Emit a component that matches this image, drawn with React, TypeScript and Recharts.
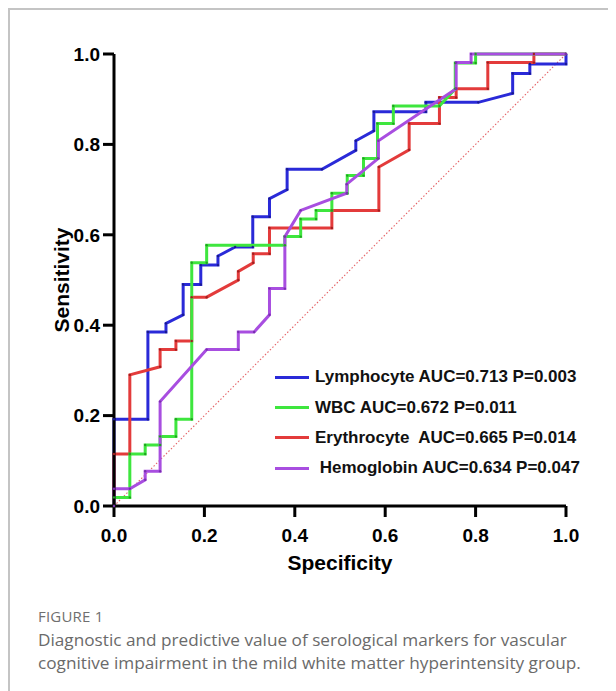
import React from "react";
import { LineChart, Line, XAxis, YAxis, ReferenceLine, Legend } from "recharts";

// ROC curves: [1 - specificity axis value, sensitivity]
const lymphocyte: [number, number][] = [
  [0, 0], [0, 0.192], [0.075, 0.192], [0.075, 0.385], [0.115, 0.385], [0.115, 0.404],
  [0.153, 0.423], [0.153, 0.49], [0.192, 0.49], [0.192, 0.533], [0.23, 0.533], [0.23, 0.553],
  [0.268, 0.573], [0.307, 0.573], [0.307, 0.64], [0.344, 0.64], [0.344, 0.68], [0.383, 0.7],
  [0.383, 0.745], [0.46, 0.745], [0.535, 0.787], [0.535, 0.808], [0.575, 0.83], [0.575, 0.872],
  [0.69, 0.872], [0.69, 0.893], [0.806, 0.893], [0.882, 0.913], [0.882, 0.957], [0.92, 0.957],
  [0.92, 0.978], [1, 0.978], [1, 1],
];

const wbc: [number, number][] = [
  [0, 0], [0, 0.019], [0.035, 0.019], [0.035, 0.115], [0.069, 0.115], [0.069, 0.135],
  [0.102, 0.135], [0.102, 0.154], [0.137, 0.154], [0.137, 0.192], [0.172, 0.192], [0.172, 0.538],
  [0.205, 0.538], [0.205, 0.577], [0.378, 0.577], [0.378, 0.596], [0.413, 0.596], [0.413, 0.635],
  [0.447, 0.635], [0.447, 0.654], [0.482, 0.654], [0.482, 0.692], [0.516, 0.692], [0.516, 0.731],
  [0.552, 0.731], [0.552, 0.769], [0.583, 0.769], [0.583, 0.846], [0.618, 0.846], [0.618, 0.885],
  [0.72, 0.885], [0.755, 0.923], [0.755, 0.98], [0.8, 0.98], [0.8, 1], [1, 1],
];

const erythrocyte: [number, number][] = [
  [0, 0], [0, 0.115], [0.035, 0.115], [0.035, 0.29], [0.102, 0.308], [0.102, 0.346],
  [0.137, 0.346], [0.137, 0.365], [0.172, 0.365], [0.172, 0.462], [0.205, 0.462], [0.275, 0.5],
  [0.275, 0.519], [0.308, 0.538], [0.308, 0.558], [0.344, 0.558], [0.344, 0.615], [0.482, 0.615],
  [0.482, 0.654], [0.586, 0.654], [0.586, 0.75], [0.653, 0.788], [0.653, 0.846], [0.72, 0.846],
  [0.72, 0.904], [0.757, 0.904], [0.757, 0.923], [0.827, 0.923], [0.827, 0.981], [0.929, 0.981],
  [0.929, 1], [1, 1],
];

const hemoglobin: [number, number][] = [
  [0, 0], [0, 0.038], [0.035, 0.038], [0.069, 0.058], [0.069, 0.077], [0.102, 0.077],
  [0.102, 0.231], [0.205, 0.346], [0.275, 0.346], [0.275, 0.385], [0.31, 0.385], [0.344, 0.423],
  [0.344, 0.481], [0.378, 0.481], [0.378, 0.596], [0.413, 0.654], [0.515, 0.692], [0.515, 0.712],
  [0.585, 0.769], [0.585, 0.808], [0.757, 0.923], [0.757, 0.981], [0.79, 0.981], [0.79, 1], [1, 1],
];

const ticks = [0, 0.2, 0.4, 0.6, 0.8, 1];

const legendItems = [
  { label: "Lymphocyte AUC=0.713 P=0.003", color: "#2a2ad8" },
  { label: "WBC AUC=0.672 P=0.011", color: "#3ee63e" },
  { label: "Erythrocyte  AUC=0.665 P=0.014", color: "#e33b3b" },
  { label: " Hemoglobin AUC=0.634 P=0.047", color: "#a84ee0" },
];

const toPts = (arr: [number, number][]) => arr.map(([x, y]) => ({ x, y }));

const FONT = "'Liberation Sans', Arial, sans-serif";

const LegendBox = () => (
  <div style={{ fontFamily: FONT }}>
    {legendItems.map((it, i) => (
      <div key={i} style={{ display: "flex", alignItems: "center", height: 30.4 }}>
        <div style={{ width: 34, height: 3, background: it.color, marginRight: 6 }} />
        <span style={{ fontSize: 17, fontWeight: 700, color: "#111", whiteSpace: "pre" }}>{it.label}</span>
      </div>
    ))}
  </div>
);

const tickStyle = { fontSize: 19, fontWeight: 700, fill: "#000", fontFamily: FONT };

export default function App() {
  return (
    <div style={{ position: "relative", width: 608, height: 683, background: "#fff" }}>
      <div style={{ position: "absolute", left: 0, top: 0, width: 608, height: 1.5, background: "#c4c4c4" }} />
      <div style={{ position: "absolute", left: 0, top: 0, width: 1.5, height: 683, background: "#c4c4c4" }} />

      <div style={{ position: "absolute", left: 0, top: 0 }}>
        <LineChart width={600} height={560} margin={{ top: 46, right: 42, bottom: 32, left: 46 }}>
          <XAxis
            type="number"
            dataKey="x"
            domain={[0, 1]}
            ticks={ticks}
            tickFormatter={(v: number) => v.toFixed(1)}
            height={30}
            tick={tickStyle}
            tickSize={11}
            tickMargin={12}
            axisLine={{ stroke: "#000", strokeWidth: 3 }}
            tickLine={{ stroke: "#000", strokeWidth: 3 }}
          />
          <YAxis
            type="number"
            dataKey="y"
            domain={[0, 1]}
            ticks={ticks}
            tickFormatter={(v: number) => v.toFixed(1)}
            width={60}
            tick={tickStyle}
            tickSize={11}
            tickMargin={3}
            axisLine={{ stroke: "#000", strokeWidth: 3 }}
            tickLine={{ stroke: "#000", strokeWidth: 3 }}
          />
          <ReferenceLine
            segment={[{ x: 0, y: 0 }, { x: 1, y: 1 }]}
            stroke="#e0484c"
            strokeOpacity={0.85}
            strokeWidth={1.1}
            strokeDasharray="1.5 2"
          />
          <Line data={toPts(lymphocyte)} dataKey="y" type="linear" stroke="#2a2ad8" strokeWidth={3}
            dot={{ r: 1.2, fill: "#1a1a90", stroke: "none" }} isAnimationActive={false} />
          <Line data={toPts(erythrocyte)} dataKey="y" type="linear" stroke="#e33b3b" strokeWidth={3}
            dot={{ r: 1.2, fill: "#a02020", stroke: "none" }} isAnimationActive={false} />
          <Line data={toPts(wbc)} dataKey="y" type="linear" stroke="#3ee63e" strokeWidth={3}
            dot={{ r: 1.2, fill: "#22a022", stroke: "none" }} isAnimationActive={false} />
          <Line data={toPts(hemoglobin)} dataKey="y" type="linear" stroke="#a84ee0" strokeWidth={3}
            dot={{ r: 1.2, fill: "#7a2fb0", stroke: "none" }} isAnimationActive={false} />
          <Legend
            layout="vertical"
            align="center"
            verticalAlign="middle"
            content={() => <LegendBox />}
            wrapperStyle={{ position: "absolute", left: 267, top: 354, width: 320 }}
          />
        </LineChart>
      </div>

      <div style={{ position: "absolute", left: 0, width: 664, top: 541, textAlign: "center",
        fontFamily: FONT, fontWeight: 700, fontSize: 21, color: "#000", lineHeight: "28px" }}>
        Specificity
      </div>
      <div style={{ position: "absolute", left: 54, top: 272, width: 0, height: 0 }}>
        <div style={{ position: "absolute", transform: "translate(-50%, -50%) rotate(-90deg)",
          fontFamily: FONT, fontWeight: 700, fontSize: 21, color: "#000", whiteSpace: "nowrap", lineHeight: "28px" }}>
          Sensitivity
        </div>
      </div>

      <div style={{ position: "absolute", left: 30, top: 598, fontFamily: "'Open Sans', sans-serif",
        fontSize: 15, color: "#6f6f6f", letterSpacing: 0.2 }}>
        FIGURE 1
      </div>
      <div style={{ position: "absolute", left: 30, top: 620, width: 590, fontFamily: "'Open Sans', sans-serif",
        fontSize: 17.2, lineHeight: "23px", color: "#6a6a6a", whiteSpace: "nowrap" }}>
        Diagnostic and predictive value of serological markers for vascular
        <br />
        cognitive impairment in the mild white matter hyperintensity group.
      </div>
    </div>
  );
}
